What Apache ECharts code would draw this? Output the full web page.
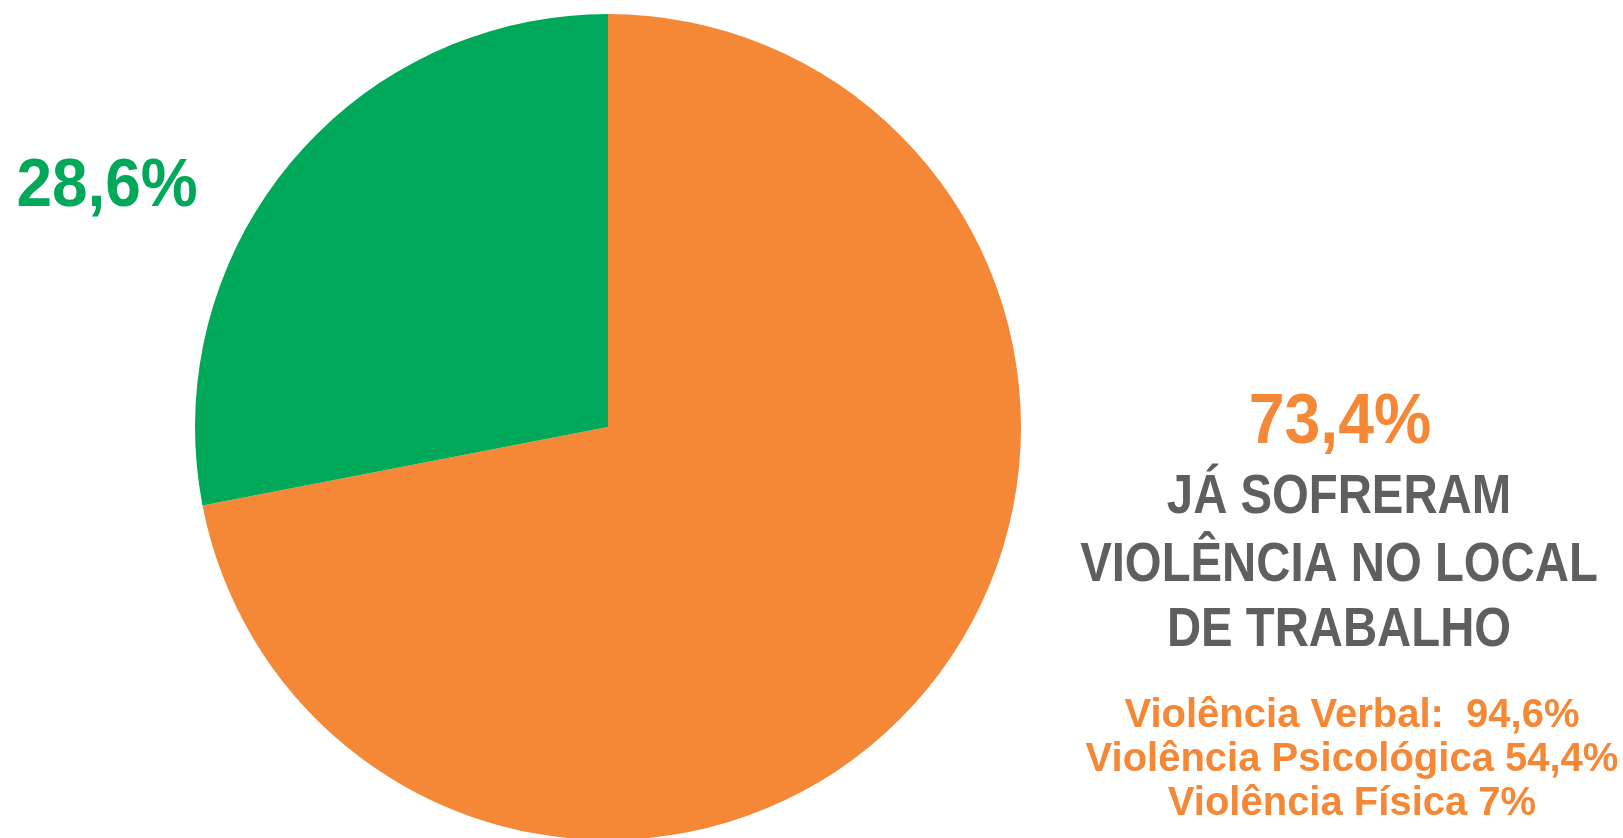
<!DOCTYPE html>
<html>
<head>
<meta charset="utf-8">
<script src="https://cdn.jsdelivr.net/npm/echarts@6/dist/echarts.min.js"></script>
<style>
  html, body { margin: 0; padding: 0; background: #ffffff; }
  #chart { width: 1623px; height: 838px; }
</style>
</head>
<body>
<div id="chart"></div>
<script>
// Slice names and shares (%)
const categories = ['Já sofreram violência', 'Não sofreram violência'];
const shares = [73.4, 28.6];
const sliceColors = ['#F48836', '#00A85A'];

// Heading under the main percentage
const headingLines = ['JÁ SOFRERAM', 'VIOLÊNCIA NO LOCAL', 'DE TRABALHO'];

// Breakdown by type of violence
const violenceTypes = ['Violência Verbal:  ', 'Violência Psicológica ', 'Violência Física '];
const violenceShares = [94.6, 54.4, 7];

const fmt = v => String(v).replace('.', ',') + '%';

const chart = echarts.init(document.getElementById('chart'), null, { renderer: 'canvas' });

const bold = (size) => 'bold ' + size + 'px "Liberation Sans", Arial, sans-serif';

const graphics = [];

// Green share label, top-left
graphics.push({
  type: 'text', x: 107, y: 187, scaleX: 0.94, silent: true,
  style: { text: fmt(shares[1]), fill: sliceColors[1], font: bold(68), textAlign: 'center', textVerticalAlign: 'middle' }
});

// Orange share label, right side
graphics.push({
  type: 'text', x: 1340, y: 424, scaleX: 0.92, silent: true,
  style: { text: fmt(shares[0]), fill: sliceColors[0], font: bold(70), textAlign: 'center', textVerticalAlign: 'middle' }
});

// Heading lines
const headingY = [498, 566, 631];
headingLines.forEach((t, i) => {
  graphics.push({
    type: 'text', x: 1339, y: headingY[i], scaleX: 0.86, silent: true,
    style: { text: t, fill: '#5F5F61', font: bold(55), textAlign: 'center', textVerticalAlign: 'middle' }
  });
});

// Breakdown lines
const typeY = [716, 760, 804];
violenceTypes.forEach((t, i) => {
  graphics.push({
    type: 'text', x: 1352, y: typeY[i], silent: true,
    style: { text: t + fmt(violenceShares[i]), fill: sliceColors[0], font: bold(40), textAlign: 'center', textVerticalAlign: 'middle' }
  });
});

chart.setOption({
  animation: false,
  backgroundColor: '#ffffff',
  series: [{
    type: 'pie',
    center: [608, 427],
    radius: 413,
    startAngle: 90,
    clockwise: true,
    silent: true,
    label: { show: false },
    labelLine: { show: false },
    itemStyle: { borderWidth: 0 },
    data: categories.map((name, i) => ({
      name: name,
      value: shares[i],
      itemStyle: { color: sliceColors[i] }
    }))
  }],
  graphic: graphics
});
</script>
</body>
</html>
